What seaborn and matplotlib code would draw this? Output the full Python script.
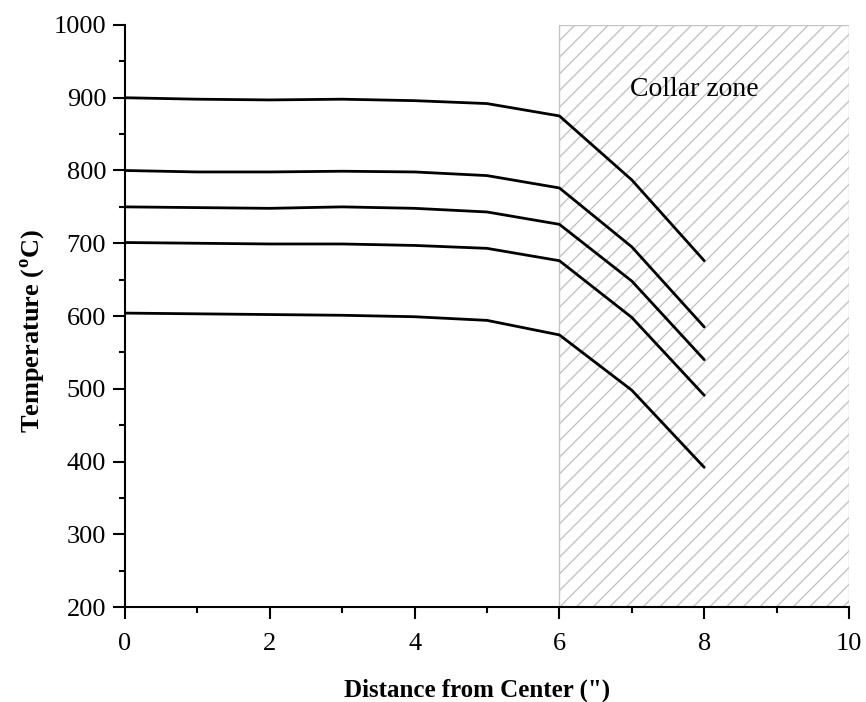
import matplotlib
matplotlib.use("Agg")
import matplotlib.pyplot as plt
import seaborn as sns
import pandas as pd
from matplotlib.patches import Rectangle
from matplotlib.ticker import MultipleLocator

distance = [0, 1, 2, 3, 4, 5, 6, 7, 8]
t900 = [900, 898, 897, 898, 896, 892, 875, 787, 676]
t800 = [800, 798, 798, 799, 798, 793, 776, 695, 585]
t750 = [750, 749, 748, 750, 748, 743, 726, 648, 540]
t700 = [701, 700, 699, 699, 697, 693, 676, 598, 491]
t600 = [604, 603, 602, 601, 599, 594, 574, 498, 392]
series_names = ["900", "800", "750", "700", "600"]
collar_start, collar_end = 6, 10

rows = []
for name, vals in zip(series_names, [t900, t800, t750, t700, t600]):
    for d, v in zip(distance, vals):
        rows.append({"series": name, "distance": d, "temp": v})
df = pd.DataFrame(rows)

sns.set_style("ticks")
plt.rcParams["font.family"] = ["Liberation Serif", "DejaVu Serif"]
plt.rcParams["hatch.color"] = "#c4c4c4"
plt.rcParams["hatch.linewidth"] = 1.0
for k in ["text.color", "axes.labelcolor", "xtick.color", "ytick.color", "axes.edgecolor"]:
    plt.rcParams[k] = "black"

fig = plt.figure(figsize=(8.66, 7.02), dpi=100)
ax = fig.add_axes([0.1443, 0.1353, 0.8361, 0.8291])

ax.add_patch(Rectangle((collar_start, 200), collar_end - collar_start, 800,
                       facecolor="white", edgecolor="#c4c4c4", hatch="//",
                       linewidth=1.0, zorder=0))

sns.lineplot(data=df, x="distance", y="temp", units="series", estimator=None,
             color="black", linewidth=2.0, ax=ax, legend=False, zorder=3)

ax.text(7.86, 912, "Collar zone", ha="center", va="center", fontsize=20)

ax.set_xlim(0, 10)
ax.set_ylim(200, 1000)
ax.xaxis.set_major_locator(MultipleLocator(2))
ax.xaxis.set_minor_locator(MultipleLocator(1))
ax.yaxis.set_major_locator(MultipleLocator(100))
ax.yaxis.set_minor_locator(MultipleLocator(50))
ax.tick_params(which="major", direction="out", length=8.5, width=1.5, labelsize=19, pad=5)
ax.tick_params(axis="x", which="major", pad=10)
ax.tick_params(which="minor", direction="out", length=4.5, width=1.5)
for s in ["top", "right"]:
    ax.spines[s].set_visible(False)
for s in ["left", "bottom"]:
    ax.spines[s].set_linewidth(1.5)

ax.set_xlabel("Distance from Center (\")", fontsize=18, fontweight="bold")
ax.set_ylabel("Temperature ($^{\\mathregular{o}}$C)", fontsize=19, fontweight="bold")
ax.xaxis.set_label_coords(0.486, -0.123)
ax.yaxis.set_label_coords(-0.107, 0.474)

fig.savefig("out.png", dpi=100)
